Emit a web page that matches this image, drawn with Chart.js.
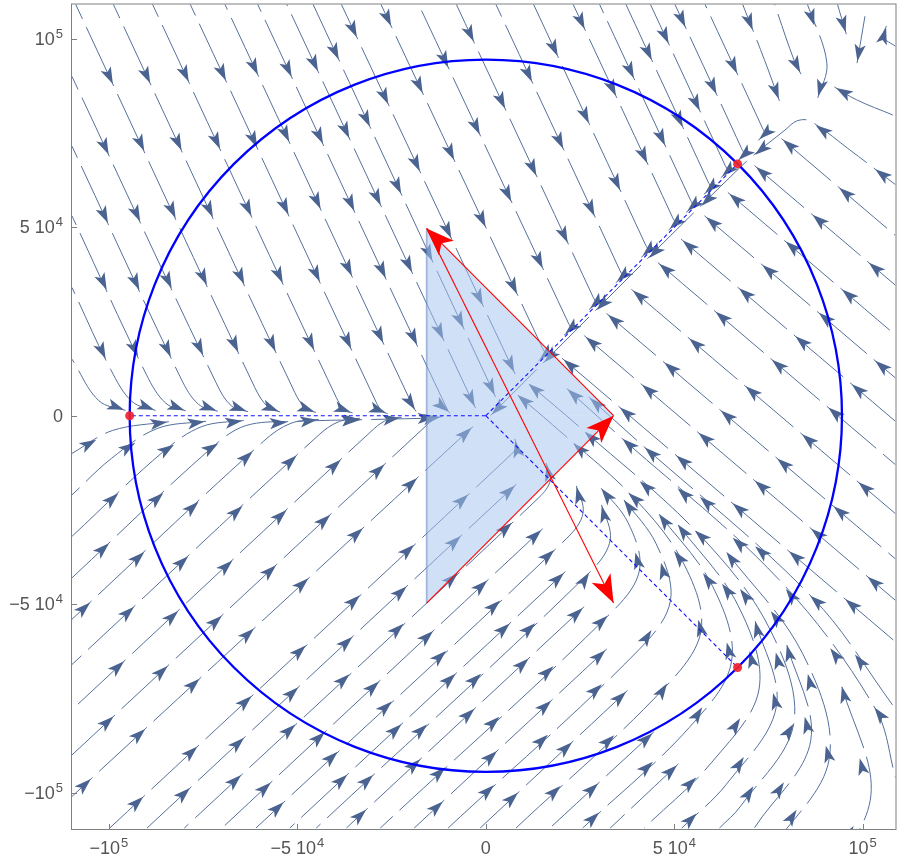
<!DOCTYPE html>
<html>
<head>
<meta charset="utf-8">
<script src="https://cdn.jsdelivr.net/npm/chart.js@4.4.1/dist/chart.umd.min.js"></script>
<style>
  html, body { margin: 0; padding: 0; background: #fff; }
</style>
</head>
<body>
<canvas id="myChart" width="900" height="861"></canvas>
<script>
// all values are in thousands (multiplied by K below)
const xTicks = [-100, -50, 0, 50, 100];
const yTicks = [-100, -50, 0, 50, 100];

const circleRadius = 94.5;
const dotX = [-94.5, 66.8, 66.8];
const dotY = [0, 66.8, -66.8];

// shaded triangle: top, right, bottom corner
const triX = [-15.7, 33.9, -15.7];
const triY = [49.7, 0, -49.7];

// red arrows, tail -> head
const arrowTailX = [33.9, -15.7, -15.7];
const arrowTailY = [0, -49.7, 49.7];
const arrowHeadX = [-15.7, 33.9, 33.9];
const arrowHeadY = [49.7, 0, -49.7];

// stream lines, flat x,y lists
const streamsUpperLeft = [
  [-109.8,15, -102.7,4, -95,1.2],
  [-109.8,34, -99.5,12.2, -93.8,3.7, -87,1.2],
  [-109.8,53, -90.1,11, -84.9,3.3, -79,1.1],
  [-109.8,71.5, -80.9,9.9, -76.2,3, -70.5,1],
  [-109.8,90, -71.6,8.8, -67.5,2.6, -62.5,0.9],
  [-109,109.5, -61.3,7.5, -57.8,2.3, -54,0.8],
  [-99,109.5, -50.7,6.2, -47.8,1.9, -44.5,0.7],
  [-88.6,109.5, -39.7,4.9, -37.4,1.5, -34.8,0.6],
  [-78.6,109.5, -29.1,3.6, -27.4,1.1, -25.5,0.4],
  [-69.4,109.5, -19.3,2.4, -18.2,0.7],
  [-60.7,109.5, -10,1.2, -9,0.4],
  [-53,109.5, -2.5,1.5],
  [-46,109.5, 2.8,4.5],
  [-38.5,109.5, 8,10.6],
  [-28,109.5, 15.1,17.8, 15.7,16.2, 13.5,14.2],
  [-18,109.5, 21.9,24.6, 22.5,23, 20.3,21],
  [-8,109.5, 28.5,31.4, 29.1,29.8, 26.9,27.8],
  [2.5,109.5, 35.6,38.5, 36.2,36.9, 34,34.9],
  [12.5,109.5, 42.4,45.3, 43,43.7, 40.8,41.7],
  [23,109.5, 49.6,52.5, 50.2,50.9, 48,48.9],
  [30,109.5, 54.3,57.2, 54.9,55.6, 52.7,53.6],
  [37,109.5, 59,62, 59.6,60.4, 57.4,58.4],
  [43.5,109.5, 63.5,66.4, 64.1,64.8, 61.9,62.8],
  [50,109.5, 67.9,70.8, 68.5,69.2, 66.3,67.2],
  [58,109.5, 73.4,76.3, 74,74.7, 71.8,72.7],
  [68,109.5, 73.9,94.5, 78.1,83],
  [76.5,109.5, 81.8,94.3, 83.9,90.1],
  [85.2,109.5, 90.5,93.5, 87.9,83.7],
  [93.2,109.5, 95.8,100.7],
  [100.6,106, 98.4,93]
];

const streamsLowerLeft = [
  [-109.8,-10, -99,-3.9, -83.5,-1.5],
  [-109.8,-21, -99.3,-11.3, -87.2,-3.4, -73.6,-1.4],
  [-109.8,-32, -85.9,-9.8, -75.4,-2.9, -63.6,-1.2],
  [-109.8,-43, -72.5,-8.3, -63.6,-2.6, -50,-1.5, -30,-1, -12.5,-0.6],
  [-109.8,-54, -58.9,-6.7, -51.7,-2, -43.7,-0.9],
  [-109.8,-66, -44.2,-5, -38.8,-1.5, -32.8,-0.6],
  [-109.8,-78, -29.6,-3.4, -25.9,-1, -21.8,-0.4],
  [-109.8,-90, -14.8,-1.7, -13,-0.5, -11,-0.2],
  [-109.8,-101, -3,-2.5]
];

const streamsTurning = [
  [-99.8,-109.4, 6.7,-10.3, 8.1,-8.1, 7.5,-5.6],
  [-89.9,-109.4, 8.5,-17.8],
  [-80,-109.4, 14.1,-21.7, 17.1,-17.1, 15.8,-11.9],
  [-70,-109.4, 15.5,-29.6],
  [-61,-109.4, 21.3,-32.7, 25.8,-25.8, 23.8,-17.9],
  [-52,-109.4, 21.5,-41],
  [-45,-109.4, 27.3,-41.8, 33,-33, 30.5,-22.9],
  [-37,-109.4, 26.5,-50.3],
  [-28,-109.4, 33.8,-51.7, 40.8,-40.8, 37.7,-28.3, 30,-18.5],
  [-19,-109.4, 32.5,-61.5],
  [-10,-109.4, 40.6,-62.1, 49,-49, 45.2,-34, 36,-21.5],
  [-1.5,-109.4, 38,-72.5],
  [8,-109.4, 47.2,-72.4, 57.1,-57.1, 52.7,-39.6, 39.6,-22.1, 17.7,-2.4, 7.6,6.2],
  [17,-109.4, 45,-83.5],
  [25.7,-109.4, 54,-82.7, 65.2,-65.2, 60.2,-45.3, 45.3,-25.2],
  [33,-109.4, 51.5,-92],
  [42,-109.4, 60,-91.9, 72.5,-72.5, 66.9,-50.3, 50.3,-28],
  [52,-109.4, 63.8,-97.8, 77.1,-77.1, 71.2,-53.5],
  [62,-109.4, 67.6,-103.6, 81.7,-81.7, 75.4,-56.7, 56.7,-31.6, 25.3,-3.4, 10.5,9.2],
  [71.3,-109.3, 86.2,-86.2, 79.6,-59.8],
  [75.4,-115.5, 91.1,-91.1, 84.1,-63.2, 63.2,-35.3],
  [84.4,-129.4, 102,-102, 94.2,-70.8]
];

const streamsRight = [
  [108.7,79.5, 98.4,83.8, 92,87.5],
  [108.7,98, 105.5,100.5, 106.5,104],
  [108.7,47.8, 78,73.9],
  [108.7,34.6, 70.9,66.7],
  [108.7,21.4, 63.8,59.6],
  [108.7,10, 57.6,53.4],
  [108.7,-1.5, 51.4,47.2],
  [108.7,-13, 45.2,41],
  [108.7,-26, 38.2,33.9],
  [108.7,-38, 31.6,27.5],
  [108.7,-49, 25.7,21.6],
  [108.7,-60, 19.8,15.6],
  [108.7,-96, 103.4,-77.8, 77.8,-43.5, 34.9,-4.9, 20.9,7.7],
  [108.7,-77.8, 86.8,-48.4, 38.8,-5.4, 26.8,5.4]
];

const separatrix = [
  [108.7,61.3, 96.6,70.5, 86,78.2, 82.5,78.2, 79.4,75.8, 68,66.4, 0.8,-0.4]
];

const K = 1000;
const streamColor = '#55709c';
const headColor = '#4a6390';
const headGap = 74;   // pixels between arrow heads along a stream line

function toPoints(flat) {
  const out = [];
  for (let i = 0; i < flat.length; i += 2) out.push({x: flat[i] * K, y: flat[i + 1] * K});
  return out;
}

// pixel length of a data polyline
function pixLength(chart, data) {
  const xs = chart.scales.x, ys = chart.scales.y;
  let L = 0;
  for (let i = 1; i < data.length; i++) {
    L += Math.hypot(xs.getPixelForValue(data[i].x) - xs.getPixelForValue(data[i - 1].x),
                    ys.getPixelForValue(data[i].y) - ys.getPixelForValue(data[i - 1].y));
  }
  return L;
}

const datasets = [];
[streamsUpperLeft, streamsLowerLeft, streamsTurning, streamsRight, separatrix].forEach(group => {
  group.forEach(line => {
    datasets.push({
      data: toPoints(line),
      borderColor: streamColor,
      borderWidth: 1,
      borderDash: [headGap - 9, 9],
      // put the small gap of each dash just after an arrow tip
      borderDashOffset: ctx => {
        const L = pixLength(ctx.chart, ctx.dataset.data);
        return (((headGap - 9 - 2 - (L - 4)) % headGap) + headGap) % headGap;
      },
      pointRadius: 0,
      tension: 0.35,
      fill: false,
      clip: 0,
      order: 100,
      heads: 'along'
    });
  });
});

// triangle, filled in two halves down / up to y = 0
datasets.push({
  data: [{x: triX[0] * K, y: triY[0] * K}, {x: triX[1] * K, y: triY[1] * K}],
  borderWidth: 0, pointRadius: 0, fill: 'origin',
  backgroundColor: 'rgba(165,195,240,0.52)', order: 50
});
datasets.push({
  data: [{x: triX[2] * K, y: triY[2] * K}, {x: triX[1] * K, y: triY[1] * K}],
  borderWidth: 0, pointRadius: 0, fill: 'origin',
  backgroundColor: 'rgba(165,195,240,0.52)', order: 50
});
// left edge of the triangle
datasets.push({
  data: [{x: triX[0] * K, y: triY[0] * K}, {x: triX[2] * K, y: triY[2] * K}],
  borderColor: 'rgba(105,135,195,0.6)', borderWidth: 1.7, pointRadius: 0,
  fill: false, order: 45, circleAfter: true
});

// dashed lines from the centre to the marked points
for (let i = 0; i < dotX.length; i++) {
  datasets.push({
    data: [{x: 0, y: 0}, {x: dotX[i] * K, y: dotY[i] * K}],
    borderColor: '#1010ff', borderWidth: 1.1, borderDash: [4, 3],
    pointRadius: 0, fill: false, order: 40
  });
}

// red arrows
for (let i = 0; i < arrowTailX.length; i++) {
  datasets.push({
    data: [{x: arrowTailX[i] * K, y: arrowTailY[i] * K}, {x: arrowHeadX[i] * K, y: arrowHeadY[i] * K}],
    borderColor: '#ff0000', borderWidth: 1.1, pointRadius: 0,
    fill: false, order: 30, heads: 'end'
  });
}

// red points on the circle
datasets.push({
  data: dotX.map((x, i) => ({x: x * K, y: dotY[i] * K})),
  showLine: false, pointRadius: 4.5, pointBackgroundColor: 'rgba(240,35,45,0.92)',
  pointBorderWidth: 0, order: 10
});

function drawHead(ctx, x, y, ang, len, half, notch, color) {
  ctx.save();
  ctx.translate(x, y);
  ctx.rotate(ang);
  ctx.beginPath();
  ctx.moveTo(0, 0);
  ctx.lineTo(-len, -half);
  ctx.lineTo(-len + notch, 0);
  ctx.lineTo(-len, half);
  ctx.closePath();
  ctx.fillStyle = color;
  ctx.fill();
  ctx.restore();
}

function drawCircle(chart) {
  const xs = chart.scales.x, ys = chart.scales.y, ctx = chart.ctx;
  const cx = xs.getPixelForValue(0), cy = ys.getPixelForValue(0);
  const r = xs.getPixelForValue(circleRadius * K) - cx;
  ctx.save();
  ctx.strokeStyle = '#0000ff';
  ctx.lineWidth = 2.3;
  ctx.beginPath();
  ctx.arc(cx, cy, r, 0, Math.PI * 2);
  ctx.stroke();
  ctx.restore();
}

const headsPlugin = {
  id: 'heads',
  afterDatasetDraw(chart, args) {
    const ds = chart.data.datasets[args.index];
    if (ds.circleAfter) drawCircle(chart);
    if (!ds.heads) return;
    const pts = args.meta.data.map(p => ({x: p.x, y: p.y}));
    const ctx = chart.ctx, a = chart.chartArea;
    ctx.save();
    ctx.beginPath();
    ctx.rect(a.left, a.top, a.right - a.left, a.bottom - a.top);
    ctx.clip();
    if (ds.heads === 'end') {
      const p = pts[pts.length - 1], q = pts[pts.length - 2];
      drawHead(ctx, p.x, p.y, Math.atan2(p.y - q.y, p.x - q.x), 28, 10.5, 7, '#ff0000');
    } else {
      const segs = [];
      let L = 0;
      for (let i = 1; i < pts.length; i++) {
        const dx = pts[i].x - pts[i - 1].x, dy = pts[i].y - pts[i - 1].y;
        const l = Math.hypot(dx, dy);
        if (l < 0.01) continue;
        segs.push({x: pts[i - 1].x, y: pts[i - 1].y, dx, dy, l, s0: L});
        L += l;
      }
      for (let s = L - 4; s > 20; s -= headGap) {
        const g = segs.find(g => s >= g.s0 && s <= g.s0 + g.l) || segs[segs.length - 1];
        const t = (s - g.s0) / g.l;
        drawHead(ctx, g.x + g.dx * t, g.y + g.dy * t, Math.atan2(g.dy, g.dx), 17, 5.6, 4, headColor);
      }
    }
    ctx.restore();
  }
};

function labelParts(v) {
  if (v === 0) return ['0', ''];
  const sign = v < 0 ? '\u2212' : '';
  const a = Math.abs(v) * K;
  const e = Math.floor(Math.log10(a));
  const m = Math.round(a / Math.pow(10, e));
  return [sign + (m === 1 ? '' : m + ' ') + '10', String(e)];
}

const framePlugin = {
  id: 'frame',
  afterDraw(chart) {
    const ctx = chart.ctx, a = chart.chartArea;
    const xs = chart.scales.x, ys = chart.scales.y;
    ctx.save();
    ctx.strokeStyle = '#808080';
    ctx.lineWidth = 1;
    ctx.strokeRect(a.left - 0.5, a.top - 0.5, a.right - a.left + 1, a.bottom - a.top + 1);
    ctx.beginPath();
    xTicks.forEach(v => {
      const px = Math.round(xs.getPixelForValue(v * K)) + 0.5;
      ctx.moveTo(px, a.bottom); ctx.lineTo(px, a.bottom - 5);
    });
    yTicks.forEach(v => {
      const py = Math.round(ys.getPixelForValue(v * K)) + 0.5;
      ctx.moveTo(a.left, py); ctx.lineTo(a.left + 5, py);
    });
    ctx.stroke();

    const mainFont = '18px "Liberation Sans", Arial, sans-serif';
    const supFont = '13px "Liberation Sans", Arial, sans-serif';
    ctx.fillStyle = '#555555';
    ctx.textBaseline = 'alphabetic';
    ctx.textAlign = 'left';
    function measure(parts) {
      ctx.font = mainFont; const w1 = ctx.measureText(parts[0]).width;
      ctx.font = supFont; const w2 = parts[1] ? ctx.measureText(parts[1]).width + 1 : 0;
      return [w1, w2];
    }
    function put(parts, x, y, w1) {
      ctx.font = mainFont; ctx.fillText(parts[0], x, y);
      if (parts[1]) { ctx.font = supFont; ctx.fillText(parts[1], x + w1 + 1, y - 7); }
    }
    xTicks.forEach(v => {
      const parts = labelParts(v);
      const [w1, w2] = measure(parts);
      const px = xs.getPixelForValue(v * K);
      put(parts, px - (w1 + w2) / 2, a.bottom + 25, w1);
    });
    yTicks.forEach(v => {
      const parts = labelParts(v);
      const [w1, w2] = measure(parts);
      const py = ys.getPixelForValue(v * K);
      put(parts, a.left - 9 - (w1 + w2), py + 6, w1);
    });
    ctx.restore();
  }
};

new Chart(document.getElementById('myChart').getContext('2d'), {
  type: 'line',
  data: {datasets: datasets},
  options: {
    responsive: false,
    animation: false,
    events: [],
    layout: {padding: {top: 1, right: 1, left: 0, bottom: 0}},
    plugins: {legend: {display: false}, tooltip: {enabled: false}},
    scales: {
      x: {
        type: 'linear', min: -109.8 * K, max: 108.7 * K,
        grid: {display: false}, border: {display: false},
        ticks: {display: false},
        afterBuildTicks: s => { s.ticks = xTicks.map(v => ({value: v * K})); },
        afterFit: s => { s.height = 32; }
      },
      y: {
        type: 'linear', min: -109.65 * K, max: 109.1 * K,
        grid: {display: false}, border: {display: false},
        ticks: {display: false},
        afterBuildTicks: s => { s.ticks = yTicks.map(v => ({value: v * K})); },
        afterFit: s => { s.width = 72; }
      }
    }
  },
  plugins: [headsPlugin, framePlugin]
});
</script>
</body>
</html>
